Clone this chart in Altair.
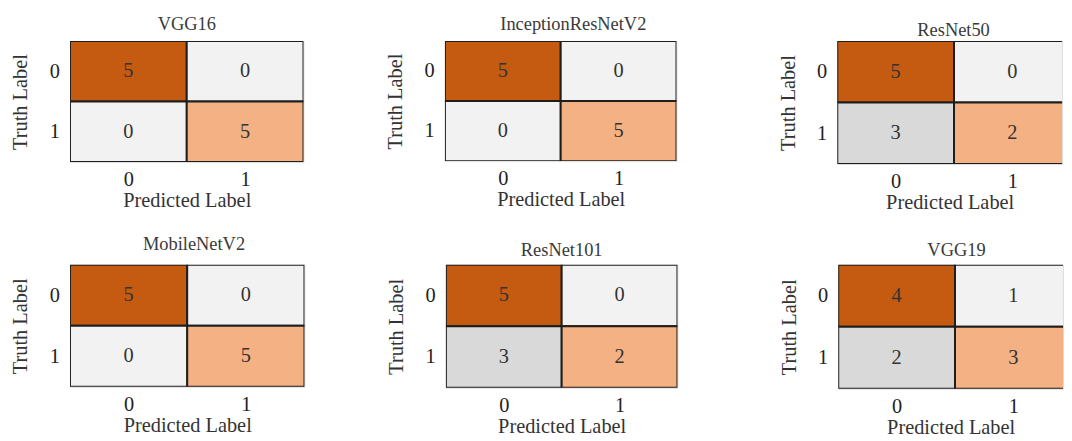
import altair as alt
import pandas as pd

# ---- data ----
models = ["VGG16", "InceptionResNetV2", "ResNet50", "MobileNetV2", "ResNet101", "VGG19"]
truth_labels = [0, 0, 1, 1]
pred_labels = [0, 1, 0, 1]
vgg16 = [5, 0, 0, 5]
inception = [5, 0, 0, 5]
resnet50 = [5, 0, 3, 2]
mobilenet = [5, 0, 0, 5]
resnet101 = [5, 0, 3, 2]
vgg19 = [4, 1, 2, 3]
matrices = [vgg16, inception, resnet50, mobilenet, resnet101, vgg19]

FONT = "Liberation Serif"
shade_domain = ["tp", "tn", "fn", "other"]
shade_range = ["#C55A11", "#F4B183", "#D9D9D9", "#F2F2F2"]

# per-panel layout (plot area sizes, x-domain extent, title tweaks)
widths = [241, 239, 232, 242, 239, 232]
heights = [125, 124, 127, 126, 127, 128]
xmax = [2, 2, 1.925, 2, 2, 1.925]
title_dx = [0, 13, 4, 7, 0, 6]
title_offset = [7, 7, 1, 11, 5, 5]


def shade(t, p, v):
    if t == p:
        return "tp" if t == 0 else "tn"
    if t == 1 and v > 0:
        return "fn"
    return "other"


def panel(i):
    vals = matrices[i]
    df = pd.DataFrame({"truth": truth_labels, "pred": pred_labels, "count": vals})
    df["shade"] = [shade(t, p, v) for t, p, v in zip(truth_labels, pred_labels, vals)]
    xs = alt.Scale(domain=[0, xmax[i]], nice=False, zero=False)
    ys = alt.Scale(domain=[0, 2], nice=False, zero=False, reverse=True)
    xaxis = alt.Axis(values=[0.5, 1.5], labelExpr="datum.value < 1 ? '0' : '1'",
                     ticks=False, domain=False, grid=False, title="Predicted Label",
                     labelPadding=7, titlePadding=1, labelFontSize=21, titleFontSize=21,
                     labelFont=FONT, titleFont=FONT, titleFontWeight="normal",
                     labelColor="#222222", titleColor="#333333", labelAngle=0)
    yaxis = alt.Axis(values=[0.5, 1.5], labelExpr="datum.value < 1 ? '0' : '1'",
                     ticks=False, domain=False, grid=False, title="Truth Label",
                     labelPadding=11, titlePadding=19, labelFontSize=21, titleFontSize=21,
                     labelFont=FONT, titleFont=FONT, titleFontWeight="normal",
                     labelColor="#222222", titleColor="#333333")
    base = alt.Chart(df).transform_calculate(
        pred2="datum.pred + 1", truth2="datum.truth + 1",
        pc="datum.pred + 0.5", tc="datum.truth + 0.5")
    rect = base.mark_rect(stroke="#1e1e1e", strokeWidth=2, clip=True).encode(
        x=alt.X("pred:Q", scale=xs, axis=xaxis),
        x2="pred2:Q",
        y=alt.Y("truth:Q", scale=ys, axis=yaxis),
        y2="truth2:Q",
        color=alt.Color("shade:N", scale=alt.Scale(domain=shade_domain, range=shade_range), legend=None),
    )
    text = base.mark_text(font=FONT, fontSize=21, color="#333333", clip=True).encode(
        x=alt.X("pc:Q", scale=xs),
        y=alt.Y("tc:Q", scale=ys),
        text="count:Q",
    )
    return alt.layer(rect, text).properties(
        width=widths[i], height=heights[i],
        title=alt.TitleParams(models[i], font=FONT, fontSize=19, fontWeight="normal",
                              color="#3a3a3a", dx=title_dx[i], offset=title_offset[i]),
    )


row1 = alt.hconcat(alt.hconcat(panel(0), panel(1), spacing=83), panel(2), spacing=103)
row2 = alt.hconcat(alt.hconcat(panel(3), panel(4), spacing=83), panel(5), spacing=103)
chart = alt.vconcat(row1, row2, spacing=22).properties(
    padding={"left": 2, "top": 0, "right": 0, "bottom": 0}
).configure_view(stroke=None).configure(background="white")

chart.save("out.html", embed_options={"renderer": "svg", "actions": False})
